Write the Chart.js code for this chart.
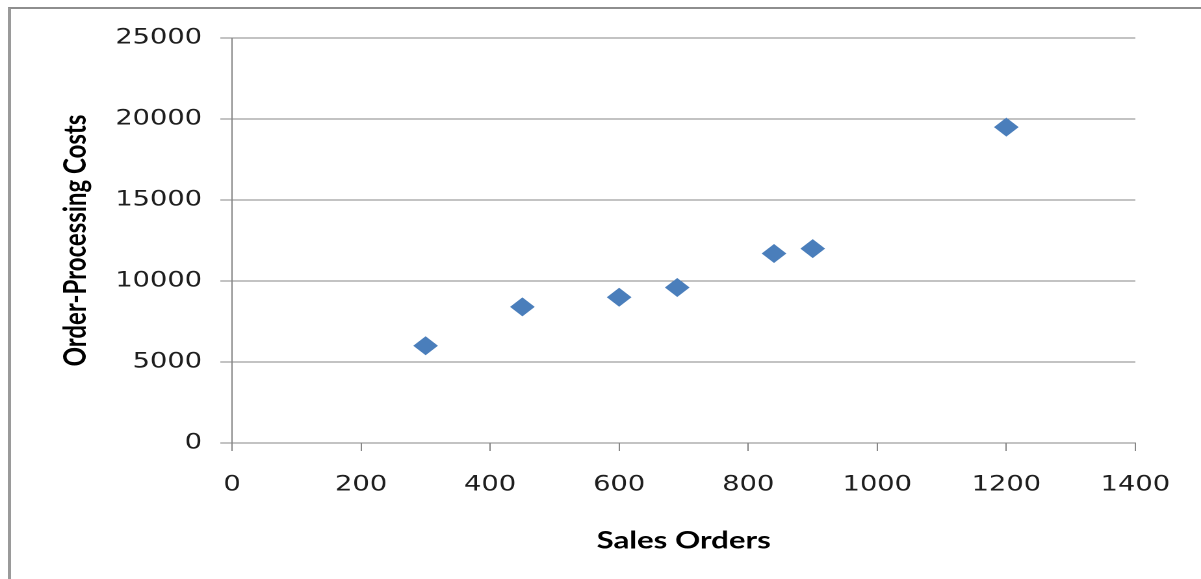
<!DOCTYPE html>
<html>
<head>
<meta charset="utf-8">
<title>Sales Orders vs Order-Processing Costs</title>
<script src="https://cdn.jsdelivr.net/npm/chart.js@4/dist/chart.umd.min.js"></script>
<style>
  html, body { margin: 0; padding: 0; background: #ffffff; overflow: hidden; }
  /* outer chart frame: only the top and left edges fall inside the page */
  #frame {
    position: absolute; left: 8px; top: 7px; width: 1400px; height: 800px;
    border-left: 3px solid #9a9a9a; border-top: 2px solid #8e8e8e;
  }
  /* the chart is laid out on a narrower surface and widened to the page */
  #wrap {
    position: absolute; left: 0; top: 0; width: 924px; height: 579px;
    transform: scaleX(1.29978); transform-origin: 0 0;
  }
</style>
</head>
<body>
<div id="frame"></div>
<div id="wrap"><canvas id="chart" width="924" height="579"></canvas></div>
<script>
// Sales orders handled in each period and what processing them cost
const salesOrders = [300, 450, 600, 690, 840, 900, 1200];
const processingCosts = [6000, 8400, 9000, 9600, 11700, 12000, 19500];

// Axis tick values
const xTickValues = [0, 200, 400, 600, 800, 1000, 1200, 1400];
const yTickValues = [0, 5000, 10000, 15000, 20000, 25000];

const axisGray = '#868686';
const markerBlue = '#4a7ebb';

const points = salesOrders.map((x, i) => ({ x: x, y: processingCosts[i] }));

// plain numbers, no thousands separators
const plainLabel = v => String(v);

new Chart(document.getElementById('chart'), {
  type: 'scatter',
  data: {
    datasets: [{
      label: 'Order-Processing Costs',
      data: points,
      pointStyle: 'rectRot',
      pointRadius: 9.5,
      pointHoverRadius: 9.5,
      backgroundColor: markerBlue,
      borderColor: markerBlue,
      borderWidth: 0
    }]
  },
  options: {
    responsive: false,
    animation: false,
    devicePixelRatio: 2,
    layout: { padding: { left: 0, top: 38, right: 50.5, bottom: 0 } },
    plugins: {
      legend: { display: false },
      tooltip: { enabled: false }
    },
    scales: {
      x: {
        type: 'linear',
        position: 'bottom',
        min: xTickValues[0],
        max: xTickValues[xTickValues.length - 1],
        afterBuildTicks: s => { s.ticks = xTickValues.map(v => ({ value: v })); },
        afterFit: s => { s.height = 136; },
        ticks: {
          font: { family: 'DejaVu Sans', size: 21 },
          color: '#1e1e1e',
          padding: 21.5,
          maxRotation: 0,
          callback: plainLabel
        },
        grid: {
          drawOnChartArea: false,
          drawTicks: true,
          tickLength: 8,
          color: axisGray,
          lineWidth: 1
        },
        border: { display: true, color: axisGray, width: 1 },
        title: {
          display: true,
          text: 'Sales Orders',
          font: { family: 'Lato', weight: 'bold', size: 24 },
          color: '#000000',
          padding: { top: 0, bottom: 24 }
        }
      },
      y: {
        type: 'linear',
        position: 'left',
        min: yTickValues[0],
        max: yTickValues[yTickValues.length - 1],
        afterBuildTicks: s => { s.ticks = yTickValues.map(v => ({ value: v })); },
        afterFit: s => { s.width = 178.5; },
        ticks: {
          font: { family: 'DejaVu Sans', size: 21 },
          color: '#1e1e1e',
          padding: 14,
          callback: plainLabel
        },
        grid: {
          drawOnChartArea: true,
          drawTicks: true,
          tickLength: 9,
          color: axisGray,
          lineWidth: 1
        },
        border: { display: true, color: axisGray, width: 1 },
        title: {
          display: true,
          text: 'Order-Processing Costs',
          font: { family: 'Lato', weight: 'bold', size: 24 },
          color: '#000000',
          padding: { top: 44, bottom: 0 }
        }
      }
    }
  }
});
</script>
</body>
</html>
